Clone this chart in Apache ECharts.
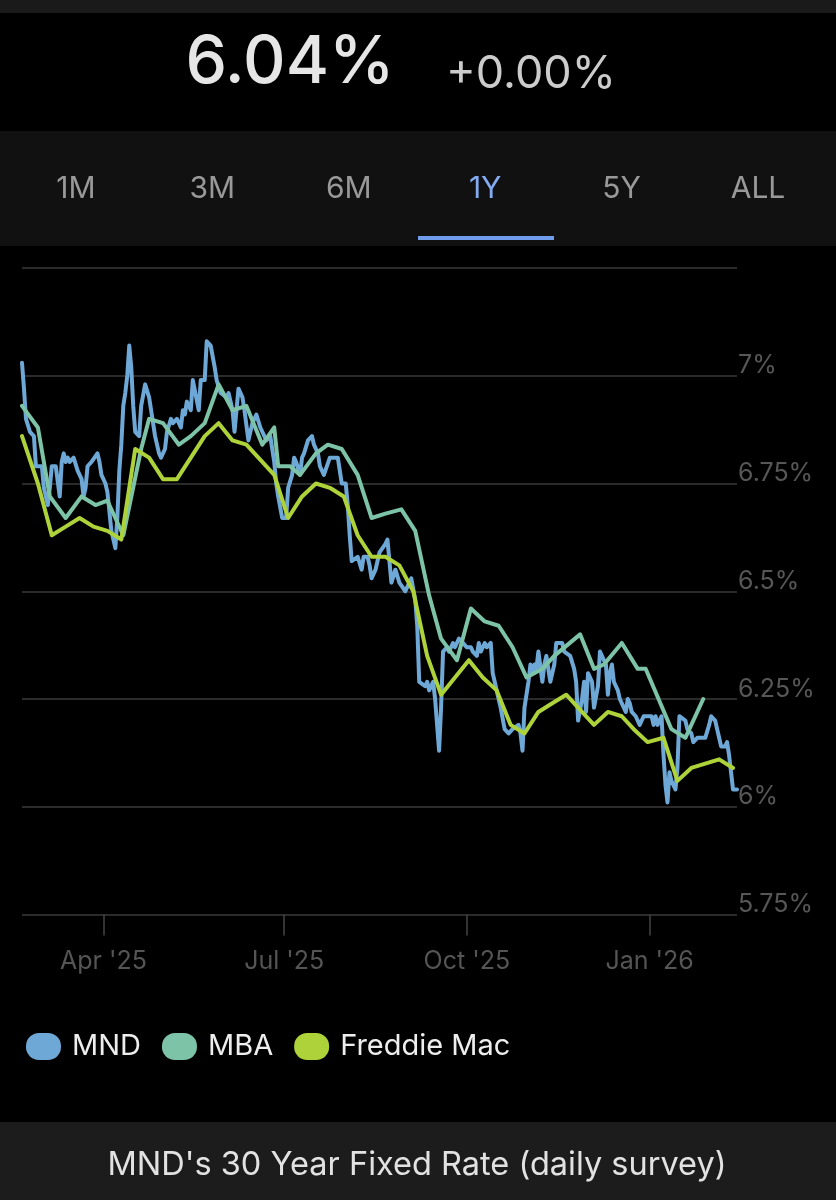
<!DOCTYPE html>
<html><head><meta charset="utf-8">
<script src="https://cdn.jsdelivr.net/npm/echarts@6/dist/echarts.min.js"></script>
<style>html,body{margin:0;padding:0;background:#000;}#c{width:836px;height:1200px;}</style>
</head><body><div id="c"></div>
<script>
// ---------- data ----------
const windowStart = '2025-02-19';
const windowEnd = '2026-02-14';
const headlineRate = '6.04%';
const headlineChange = '+0.00%';
const tabLabels = ['1M', '3M', '6M', '1Y', '5Y', 'ALL'];
const selectedTab = '1Y';
const footerTitle = "MND's 30 Year Fixed Rate (daily survey)";
const seriesNames = ['MND', 'MBA', 'Freddie Mac'];
const xTickDates = ['2025-04-01', '2025-07-01', '2025-10-01', '2026-01-01'];
const xTickLabels = ["Apr '25", "Jul '25", "Oct '25", "Jan '26"];
const yMin = 5.75, yMax = 7.25, yStep = 0.25;

const mndDates = ['2025-02-19','2025-02-20','2025-02-21','2025-02-23','2025-02-25','2025-02-26','2025-03-01','2025-03-02','2025-03-04','2025-03-05','2025-03-06','2025-03-08','2025-03-10','2025-03-11','2025-03-12','2025-03-13','2025-03-14','2025-03-15','2025-03-17','2025-03-19','2025-03-21','2025-03-22','2025-03-23','2025-03-24','2025-03-26','2025-03-27','2025-03-29','2025-03-30','2025-03-31','2025-04-02','2025-04-03','2025-04-05','2025-04-07','2025-04-08','2025-04-09','2025-04-10','2025-04-11','2025-04-12','2025-04-13','2025-04-14','2025-04-15','2025-04-16','2025-04-17','2025-04-19','2025-04-20','2025-04-22','2025-04-23','2025-04-24','2025-04-25','2025-04-26','2025-04-27','2025-04-29','2025-04-30','2025-05-02','2025-05-03','2025-05-05','2025-05-06','2025-05-08','2025-05-10','2025-05-11','2025-05-12','2025-05-13','2025-05-15','2025-05-16','2025-05-17','2025-05-19','2025-05-20','2025-05-22','2025-05-23','2025-05-25','2025-05-27','2025-05-28','2025-05-30','2025-06-02','2025-06-03','2025-06-05','2025-06-06','2025-06-08','2025-06-10','2025-06-11','2025-06-13','2025-06-15','2025-06-17','2025-06-19','2025-06-20','2025-06-22','2025-06-24','2025-06-26','2025-06-27','2025-06-28','2025-06-30','2025-07-02','2025-07-03','2025-07-05','2025-07-06','2025-07-07','2025-07-09','2025-07-10','2025-07-11','2025-07-13','2025-07-15','2025-07-16','2025-07-18','2025-07-19','2025-07-21','2025-07-22','2025-07-24','2025-07-26','2025-07-28','2025-07-30','2025-08-01','2025-08-02','2025-08-03','2025-08-04','2025-08-05','2025-08-07','2025-08-09','2025-08-10','2025-08-12','2025-08-13','2025-08-14','2025-08-16','2025-08-18','2025-08-21','2025-08-22','2025-08-24','2025-08-26','2025-08-28','2025-08-31','2025-09-01','2025-09-03','2025-09-05','2025-09-06','2025-09-07','2025-09-08','2025-09-10','2025-09-11','2025-09-12','2025-09-14','2025-09-15','2025-09-17','2025-09-18','2025-09-19','2025-09-21','2025-09-22','2025-09-24','2025-09-25','2025-09-27','2025-09-29','2025-10-01','2025-10-03','2025-10-04','2025-10-06','2025-10-07','2025-10-08','2025-10-10','2025-10-11','2025-10-13','2025-10-14','2025-10-15','2025-10-17','2025-10-18','2025-10-20','2025-10-22','2025-10-24','2025-10-25','2025-10-27','2025-10-28','2025-10-29','2025-10-30','2025-11-01','2025-11-02','2025-11-03','2025-11-04','2025-11-05','2025-11-06','2025-11-08','2025-11-09','2025-11-10','2025-11-11','2025-11-12','2025-11-14','2025-11-15','2025-11-18','2025-11-19','2025-11-22','2025-11-24','2025-11-25','2025-11-26','2025-11-28','2025-11-29','2025-11-30','2025-12-01','2025-12-03','2025-12-04','2025-12-06','2025-12-07','2025-12-08','2025-12-10','2025-12-11','2025-12-12','2025-12-13','2025-12-14','2025-12-15','2025-12-16','2025-12-17','2025-12-18','2025-12-20','2025-12-21','2025-12-22','2025-12-23','2025-12-25','2025-12-26','2025-12-27','2025-12-29','2025-12-31','2026-01-02','2026-01-03','2026-01-04','2026-01-05','2026-01-07','2026-01-08','2026-01-09','2026-01-10','2026-01-11','2026-01-12','2026-01-14','2026-01-15','2026-01-16','2026-01-17','2026-01-19','2026-01-20','2026-01-22','2026-01-23','2026-01-25','2026-01-27','2026-01-29','2026-01-31','2026-02-01','2026-02-03','2026-02-04','2026-02-05','2026-02-06','2026-02-08','2026-02-09','2026-02-10','2026-02-11','2026-02-12','2026-02-14'];
const mndValues = [7.03,6.97,6.90,6.87,6.86,6.79,6.79,6.74,6.70,6.74,6.79,6.79,6.72,6.80,6.82,6.80,6.81,6.80,6.81,6.78,6.76,6.72,6.74,6.79,6.80,6.80,6.82,6.80,6.77,6.75,6.73,6.64,6.60,6.67,6.78,6.84,6.93,6.96,7.00,7.07,7.02,6.93,6.87,6.86,6.93,6.98,6.98,6.95,6.92,6.89,6.86,6.82,6.81,6.83,6.87,6.90,6.89,6.90,6.88,6.92,6.91,6.94,6.92,6.99,6.99,6.92,6.99,6.99,7.08,7.07,7.02,6.99,6.96,6.95,6.96,6.92,6.87,6.97,6.95,6.92,6.85,6.89,6.91,6.88,6.87,6.85,6.86,6.80,6.75,6.72,6.67,6.67,6.74,6.77,6.81,6.80,6.77,6.81,6.82,6.85,6.86,6.84,6.82,6.79,6.77,6.77,6.81,6.81,6.81,6.75,6.75,6.70,6.63,6.57,6.57,6.58,6.55,6.58,6.58,6.56,6.53,6.55,6.59,6.61,6.62,6.52,6.55,6.52,6.50,6.50,6.53,6.48,6.42,6.29,6.29,6.28,6.29,6.27,6.29,6.25,6.13,6.23,6.36,6.37,6.36,6.38,6.37,6.39,6.38,6.37,6.37,6.36,6.35,6.38,6.36,6.38,6.37,6.38,6.31,6.29,6.25,6.23,6.18,6.17,6.18,6.18,6.19,6.17,6.13,6.23,6.29,6.33,6.31,6.33,6.32,6.36,6.29,6.33,6.35,6.32,6.29,6.33,6.38,6.38,6.36,6.35,6.32,6.29,6.20,6.25,6.29,6.22,6.31,6.29,6.23,6.28,6.36,6.35,6.33,6.26,6.31,6.33,6.29,6.28,6.27,6.25,6.25,6.22,6.25,6.24,6.22,6.21,6.20,6.19,6.21,6.21,6.21,6.19,6.21,6.19,6.21,6.12,6.05,6.01,6.08,6.06,6.04,6.09,6.21,6.21,6.20,6.18,6.17,6.15,6.16,6.16,6.16,6.19,6.21,6.20,6.18,6.16,6.14,6.14,6.15,6.12,6.08,6.04,6.04];

const mbaDates = ['2025-02-19','2025-02-27','2025-03-05','2025-03-13','2025-03-21','2025-03-28','2025-04-03','2025-04-11','2025-04-20','2025-04-24','2025-05-01','2025-05-09','2025-05-15','2025-05-22','2025-05-29','2025-06-05','2025-06-12','2025-06-20','2025-06-26','2025-06-28','2025-07-04','2025-07-09','2025-07-17','2025-07-23','2025-07-30','2025-08-07','2025-08-14','2025-08-21','2025-08-29','2025-09-05','2025-09-12','2025-09-18','2025-09-26','2025-10-03','2025-10-10','2025-10-17','2025-10-24','2025-10-31','2025-11-08','2025-11-14','2025-11-27','2025-12-04','2025-12-09','2025-12-18','2025-12-26','2025-12-30','2026-01-12','2026-01-19','2026-01-28'];
const mbaValues = [6.93,6.88,6.72,6.67,6.72,6.70,6.71,6.63,6.83,6.90,6.89,6.84,6.86,6.89,6.98,6.92,6.93,6.84,6.88,6.79,6.79,6.77,6.82,6.84,6.83,6.77,6.67,6.68,6.69,6.64,6.49,6.39,6.34,6.46,6.43,6.42,6.37,6.30,6.32,6.35,6.40,6.32,6.33,6.38,6.32,6.32,6.18,6.16,6.25];

const freddieDates = ['2025-02-19','2025-02-27','2025-03-06','2025-03-13','2025-03-20','2025-03-27','2025-04-03','2025-04-10','2025-04-17','2025-04-24','2025-05-01','2025-05-08','2025-05-15','2025-05-22','2025-05-29','2025-06-05','2025-06-12','2025-06-18','2025-06-26','2025-07-03','2025-07-10','2025-07-17','2025-07-24','2025-07-31','2025-08-07','2025-08-14','2025-08-21','2025-08-28','2025-09-04','2025-09-11','2025-09-18','2025-09-25','2025-10-02','2025-10-09','2025-10-16','2025-10-23','2025-10-30','2025-11-06','2025-11-13','2025-11-20','2025-11-26','2025-12-04','2025-12-11','2025-12-18','2025-12-24','2025-12-31','2026-01-08','2026-01-15','2026-01-22','2026-01-29','2026-02-05','2026-02-12'];
const freddieValues = [6.86,6.75,6.63,6.65,6.67,6.65,6.64,6.62,6.83,6.81,6.76,6.76,6.81,6.86,6.89,6.85,6.84,6.81,6.77,6.67,6.72,6.75,6.74,6.72,6.63,6.58,6.58,6.56,6.50,6.35,6.26,6.30,6.34,6.30,6.27,6.19,6.17,6.22,6.24,6.26,6.23,6.19,6.22,6.21,6.18,6.15,6.16,6.06,6.09,6.10,6.11,6.09];

// ---------- build ----------
const FONT = 'Inter';
const days = [];
for (let t = Date.parse(windowStart + 'T00:00:00Z'); t <= Date.parse(windowEnd + 'T00:00:00Z'); t += 86400000) {
  days.push(new Date(t).toISOString().slice(0, 10));
}
const dayIndex = {};
days.forEach((d, i) => { dayIndex[d] = i; });
const pairs = (ds, vs) => ds.map((d, k) => [dayIndex[d], vs[k]]);
const isTick = (idx, val) => xTickDates.indexOf(val) >= 0;

const colors = { 'MND': '#6ea8d6', 'MBA': '#7cc3a8', 'Freddie Mac': '#aed239' };
const legendIcon = 'path://M13,0 L22,0 A13,13 0 0 1 35,13 L35,14 A13,13 0 0 1 22,27 L13,27 A13,13 0 0 1 0,14 L0,13 A13,13 0 0 1 13,0 Z';

const graphic = [
  { type: 'rect', shape: { x: 0, y: 0, width: 836, height: 13 }, style: { fill: '#1a1a1a' } },
  { type: 'text', x: 290, y: 63, style: { text: headlineRate, font: '500 66px ' + FONT, fill: '#e6e6e6', align: 'center', verticalAlign: 'middle' } },
  { type: 'text', x: 531, y: 74, style: { text: headlineChange, font: '400 45px ' + FONT, fill: '#cccccc', align: 'center', verticalAlign: 'middle' } },
  { type: 'rect', shape: { x: 0, y: 131, width: 836, height: 115 }, style: { fill: '#111111' } },
  { type: 'rect', shape: { x: 418, y: 236, width: 136, height: 4 }, style: { fill: '#6f9deb' } },
  { type: 'rect', shape: { x: 0, y: 1122, width: 836, height: 78 }, style: { fill: '#1c1c1c' } },
  { type: 'text', x: 417, y: 1165, style: { text: footerTitle, font: '400 32.5px ' + FONT, fill: '#e2e2e2', align: 'center', verticalAlign: 'middle' } }
];
tabLabels.forEach((lab, i) => {
  graphic.push({ type: 'text', x: 76 + i * 136.4, y: 189, style: { text: lab, font: '400 30px ' + FONT, fill: lab === selectedTab ? '#84aaf2' : '#999999', align: 'center', verticalAlign: 'middle' } });
});

const chart = echarts.init(document.getElementById('c'), null, { renderer: 'canvas' });
chart.setOption({
  backgroundColor: '#000000',
  animation: false,
  graphic: graphic,
  grid: { left: 22, right: 99, top: 268, bottom: 285.5, containLabel: false },
  legend: {
    data: seriesNames, left: 21, top: 1027, icon: legendIcon, itemWidth: 35, itemHeight: 27, itemGap: 21,
    textStyle: { color: '#eeeeee', fontSize: 29, fontFamily: FONT, padding: [0, 0, 0, 6], lineHeight: 27 },
    selectedMode: false
  },
  xAxis: {
    type: 'category', data: days, boundaryGap: false,
    axisLine: { show: false },
    axisTick: { show: true, interval: isTick, length: 21, lineStyle: { color: '#444444', width: 1.5 } },
    axisLabel: {
      interval: isTick, margin: 34, color: '#555555', fontSize: 25, fontFamily: FONT, lineHeight: 25,
      formatter: v => xTickLabels[xTickDates.indexOf(v)] || ''
    },
    splitLine: { show: false }
  },
  yAxis: {
    type: 'value', position: 'right', min: yMin, max: yMax, interval: yStep,
    axisLine: { show: false }, axisTick: { show: false },
    splitLine: { show: true, lineStyle: { color: '#3a3a3a', width: 1.5 } },
    axisLabel: {
      margin: 1, color: '#575757', fontSize: 25, fontFamily: FONT, verticalAlign: 'bottom', lineHeight: 20, align: 'left',
      formatter: v => (Math.abs(v - yMax) < 1e-9 ? '' : (+v.toFixed(2)) + '%')
    }
  },
  series: [
    { name: 'MND', type: 'line', data: pairs(mndDates, mndValues), showSymbol: false, connectNulls: true, color: colors['MND'], lineStyle: { width: 4, join: 'round', cap: 'round' } },
    { name: 'MBA', type: 'line', data: pairs(mbaDates, mbaValues), showSymbol: false, connectNulls: true, color: colors['MBA'], lineStyle: { width: 4, join: 'round', cap: 'round' } },
    { name: 'Freddie Mac', type: 'line', data: pairs(freddieDates, freddieValues), showSymbol: false, connectNulls: true, color: colors['Freddie Mac'], lineStyle: { width: 4, join: 'round', cap: 'round' } }
  ]
});
</script></body></html>
